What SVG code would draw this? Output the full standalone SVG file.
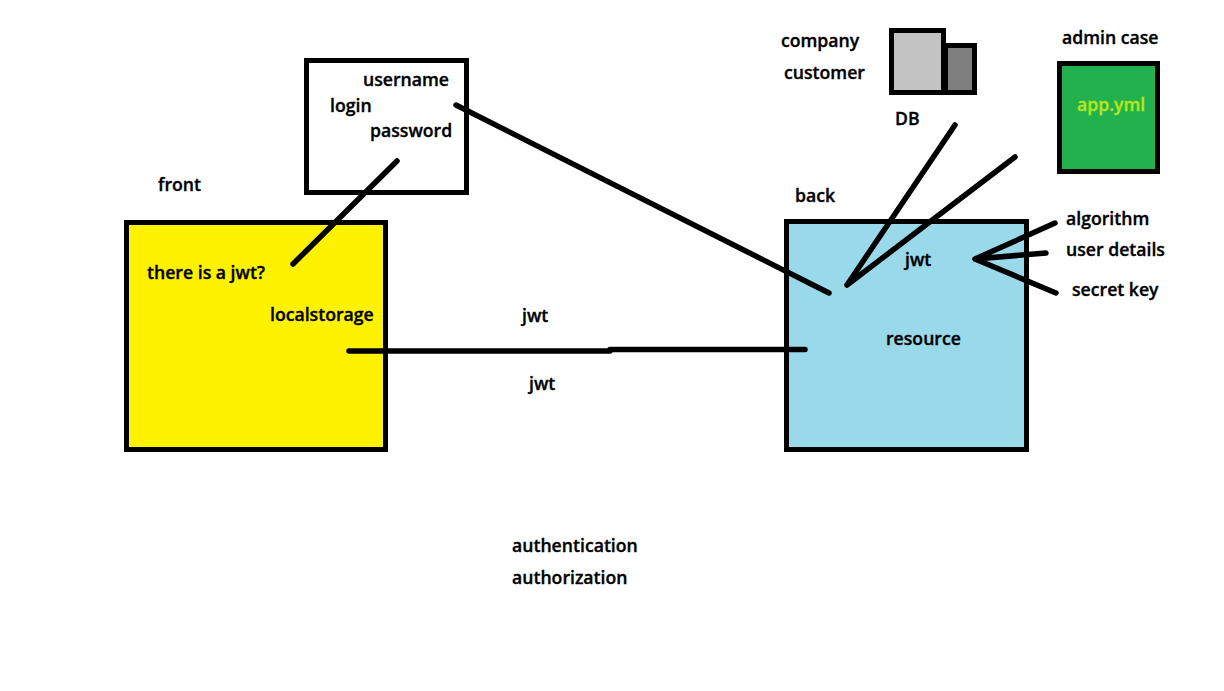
<svg xmlns="http://www.w3.org/2000/svg" width="1224" height="691" viewBox="0 0 1224 691">
<style>
text{font-family:"Open Sans","Liberation Sans",sans-serif;font-size:17.65px;font-weight:600;fill:#000;stroke:#000;stroke-width:.35px}
.b{stroke:#000;stroke-width:5}
.l{stroke:#000;stroke-width:5.5;fill:none;stroke-linecap:round}
</style>
<rect width="1224" height="691" fill="#fff"/>
<g id="front"><rect class="b" x="126.500" y="222.500" width="259" height="227" fill="#fff200"/></g>
<g id="login"><rect class="b" x="306.500" y="60.500" width="160" height="132" fill="#fff"/></g>
<g id="back"><rect class="b" x="786.500" y="221.500" width="240" height="228" fill="#99d9ea"/></g>
<g id="db"><rect class="b" x="945.500" y="45.500" width="29" height="47" fill="#7f7f7f"/><rect class="b" x="891.500" y="30.500" width="52" height="62" fill="#c3c3c3"/></g>
<g id="admin"><rect class="b" x="1059.500" y="63.500" width="98" height="108" fill="#22b14c"/></g>
<g id="connectors">
<path class="l" d="M397 161L293 264"/>
<path class="l" d="M456 105L829 293"/>
<path class="l" d="M349 351L610 351M610 349.500L805 349.500"/>
<path class="l" d="M955 125L847 285M1015 157L847 285"/>
<path class="l" d="M975 259L1055 223M975 259L1046 253M975 259L1056 293"/>
</g>
<text x="363" y="86">username</text><text x="330" y="112">login</text><text x="370" y="137">password</text>
<text x="158" y="191">front</text><text x="147" y="279">there is a jwt?</text><text x="270" y="321">localstorage</text>
<text x="522" y="322">jwt</text><text x="529" y="390">jwt</text>
<text x="512" y="552">authentication</text><text x="512" y="584">authorization</text>
<text x="795" y="202">back</text><text x="905" y="266">jwt</text><text x="886" y="345">resource</text>
<text x="781" y="47">company</text><text x="784" y="79">customer</text><text x="895" y="125">DB</text>
<text x="1062" y="44">admin case</text><text x="1077" y="111" style="fill:#b5e61d;stroke:#b5e61d">app.yml</text>
<text x="1066" y="225">algorithm</text><text x="1066" y="256">user details</text><text x="1072" y="296">secret key</text>
</svg>
